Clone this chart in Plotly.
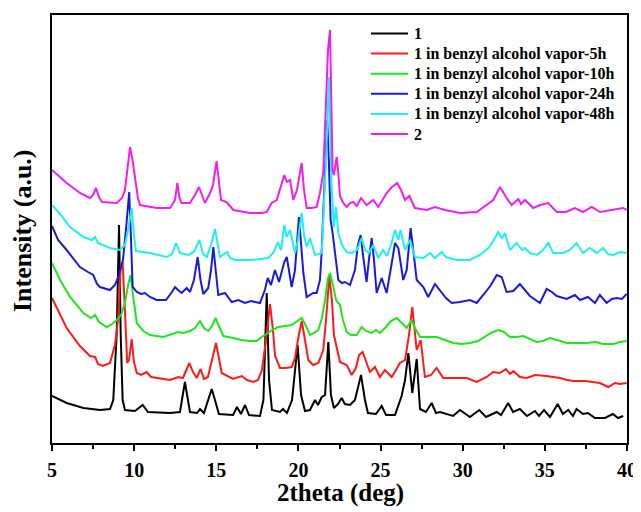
import plotly.graph_objects as go

# ---- data: 2theta (deg) and intensity (a.u., stacked offsets included) ----
s1_x = [5.00, 5.89, 6.91, 7.92, 8.53, 8.73, 8.94, 9.08, 9.18, 9.30, 9.44, 10.05, 10.52, 10.84, 12.18, 12.79, 13.09, 13.40, 13.83, 14.01,
        14.25, 14.49, 14.72, 14.92, 15.16, 16.02, 16.26, 16.50, 16.75, 16.99, 17.66, 17.87, 18.07, 18.21, 18.39, 18.88, 19.06, 19.30, 19.61, 19.95,
        20.16, 20.40, 20.70, 21.01, 21.19, 21.42, 21.62, 21.82, 21.98, 22.16, 22.41, 22.63, 22.83, 23.14, 23.44, 23.81, 24.05, 24.23, 24.72, 25.07,
        25.33, 25.88, 26.28, 26.49, 26.69, 26.93, 27.20, 27.40, 27.76, 28.11, 28.37, 28.62, 29.41, 29.83, 30.44, 31.01, 31.42, 32.07, 32.33, 32.77,
        33.06, 33.48, 33.91, 34.40, 34.64, 34.95, 35.31, 35.78, 36.10, 36.42, 36.71, 36.93, 37.32, 37.62, 38.05, 38.66, 39.14, 39.45, 39.77]
s1_y = [47, 40, 35, 33, 34, 43, 110, 218, 110, 43, 33, 32, 38, 31, 30, 31, 61, 31, 30, 34,
        30, 43, 54, 43, 29, 28, 36, 29, 38, 28, 27, 43, 150, 63, 33, 31, 34, 30, 43, 98,
        48, 32, 33, 43, 38, 46, 48, 101, 48, 35, 39, 45, 39, 38, 43, 68, 43, 30, 29, 37,
        28, 28, 47, 63, 90, 50, 84, 34, 31, 40, 30, 31, 27, 33, 26, 33, 26, 31, 28, 40,
        31, 34, 27, 32, 27, 33, 26, 39, 29, 33, 27, 34, 29, 30, 25, 25, 29, 25, 27]

s2_x = [5.00, 5.89, 6.70, 7.31, 7.62, 7.80, 8.10, 8.53, 8.83, 9.02, 9.17, 9.30, 9.41, 9.58, 9.69, 9.85, 9.99, 10.16, 10.42, 10.76,
        11.03, 11.37, 12.18, 12.69, 12.97, 13.36, 13.58, 13.81, 14.05, 14.25, 14.49, 14.74, 14.98, 15.16, 15.33, 16.02, 16.55, 16.87, 17.25, 17.54,
        17.78, 18.03, 18.27, 18.45, 18.58, 18.88, 19.24, 19.59, 19.79, 19.97, 20.20, 20.40, 20.60, 20.89, 21.21, 21.51, 21.68, 21.88, 22.04, 22.16,
        22.33, 22.53, 22.94, 23.24, 23.50, 23.69, 23.91, 24.11, 24.35, 24.66, 24.96, 25.27, 25.68, 26.18, 26.49, 26.73, 26.93, 27.20, 27.44, 27.70,
        28.07, 28.41, 28.82, 29.53, 30.24, 30.85, 31.46, 31.84, 32.27, 32.63, 32.88, 33.08, 33.48, 33.89, 34.40, 35.11, 35.92, 36.35, 36.73, 37.44,
        38.35, 38.86, 39.27, 39.57, 39.98]
s2_y = [145, 115, 97, 87, 86, 79, 77, 80, 98, 123, 173, 181, 143, 80, 83, 104, 81, 70, 68, 71,
        66, 65, 63, 66, 65, 80, 71, 65, 74, 64, 66, 83, 100, 85, 70, 64, 67, 63, 61, 63,
        73, 103, 139, 113, 87, 75, 75, 76, 85, 103, 122, 103, 83, 78, 80, 93, 123, 167, 143, 108,
        95, 81, 78, 68, 75, 88, 91, 81, 71, 76, 66, 73, 66, 80, 83, 108, 136, 93, 103, 66,
        68, 75, 65, 65, 65, 61, 66, 71, 70, 74, 69, 72, 66, 65, 68, 67, 65, 63, 62, 62,
        60, 56, 60, 59, 60]

s3_x = [5.00, 5.49, 6.10, 6.91, 7.37, 7.62, 7.86, 8.33, 8.65, 8.94, 9.20, 9.44, 9.63, 9.78, 9.93, 10.16, 10.56, 10.96, 11.77, 12.69,
        12.97, 13.40, 13.70, 14.01, 14.25, 14.51, 14.74, 14.95, 15.16, 15.43, 16.02, 16.55, 17.05, 17.46, 17.76, 18.07, 18.39, 18.77, 19.18, 19.59,
        19.85, 20.20, 20.40, 20.70, 20.95, 21.21, 21.43, 21.62, 21.80, 21.92, 22.10, 22.29, 22.53, 22.71, 22.94, 23.20, 23.55, 23.85, 24.11, 24.46,
        24.72, 24.96, 25.33, 25.63, 25.98, 26.24, 26.59, 26.89, 27.09, 27.40, 27.89, 28.41, 28.92, 29.42, 29.95, 30.44, 30.93, 31.25, 31.72, 32.16,
        32.51, 32.88, 33.24, 33.69, 34.09, 34.50, 34.88, 35.31, 35.74, 36.33, 36.83, 37.54, 38.11, 38.54, 39.16, 39.57, 39.98]
s3_y = [180, 163, 146, 130, 125, 128, 121, 116, 119, 123, 128, 140, 158, 168, 148, 120, 112, 108, 106, 111,
        110, 112, 115, 122, 115, 112, 117, 125, 117, 107, 105, 103, 102, 102, 106, 109, 113, 116, 117, 118,
        121, 125, 119, 108, 110, 113, 125, 143, 165, 170, 158, 143, 138, 123, 111, 108, 108, 116, 112, 110,
        113, 110, 116, 122, 125, 121, 115, 123, 115, 106, 106, 106, 103, 100, 99, 100, 102, 105, 110, 113,
        111, 106, 106, 107, 104, 101, 102, 105, 103, 100, 100, 100, 101, 99, 99, 101, 102]

s4_x = [5.00, 5.37, 5.89, 6.70, 7.19, 7.51, 7.74, 7.92, 8.53, 8.83, 9.04, 9.32, 9.50, 9.70, 9.81, 9.91, 10.16, 10.42, 10.66, 10.96,
        11.37, 11.94, 12.30, 12.49, 12.67, 12.89, 13.20, 13.40, 13.64, 13.87, 14.04, 14.21, 14.51, 14.68, 14.82, 14.98, 15.12, 15.53, 15.94, 16.34,
        16.75, 17.11, 17.66, 17.96, 18.13, 18.33, 18.57, 18.82, 19.00, 19.14, 19.29, 19.42, 19.59, 19.79, 20.03, 20.19, 20.30, 20.50, 20.90, 21.11,
        21.31, 21.41, 21.58, 21.75, 21.85, 21.96, 22.08, 22.22, 22.43, 22.65, 22.83, 23.14, 23.44, 23.62, 23.79, 23.93, 24.15, 24.29, 24.46, 24.60,
        24.76, 25.07, 25.37, 25.68, 25.88, 26.08, 26.38, 26.59, 26.83, 26.99, 27.20, 27.60, 27.90, 28.31, 28.72, 28.98, 29.33, 29.83, 30.44, 30.85,
        31.35, 31.72, 32.07, 32.37, 32.67, 33.08, 33.48, 33.79, 34.09, 34.70, 35.11, 35.43, 35.72, 36.33, 36.83, 37.14, 37.62, 38.05, 38.35, 38.76,
        39.08, 39.37, 39.69, 39.98]
s4_y = [217, 203, 193, 176, 171, 168, 159, 156, 153, 158, 166, 183, 213, 251, 203, 156, 151, 149, 150, 146,
        143, 143, 151, 156, 153, 150, 155, 151, 163, 186, 163, 149, 155, 173, 196, 168, 148, 150, 141, 143,
        140, 142, 140, 153, 165, 158, 173, 161, 173, 181, 186, 173, 156, 173, 226, 193, 170, 146, 150, 150,
        163, 190, 253, 323, 283, 223, 210, 190, 163, 160, 161, 158, 173, 198, 208, 188, 161, 183, 205, 183,
        150, 165, 150, 180, 200, 195, 163, 173, 215, 193, 163, 156, 146, 159, 150, 145, 140, 141, 143, 140,
        150, 158, 168, 166, 151, 152, 159, 153, 147, 140, 154, 151, 147, 144, 148, 143, 146, 140, 148, 140,
        144, 145, 144, 149]

s5_x = [5.00, 5.49, 6.10, 6.91, 7.43, 7.62, 7.80, 8.53, 9.14, 9.44, 9.63, 9.85, 9.99, 10.11, 10.96, 11.98, 12.30, 12.55, 12.79, 13.28,
        13.64, 13.97, 14.19, 14.42, 14.68, 14.92, 15.10, 15.22, 15.47, 15.67, 15.83, 16.14, 17.15, 18.17, 18.51, 18.74, 18.94, 19.14, 19.28, 19.49,
        19.79, 19.97, 20.20, 20.34, 20.50, 20.70, 21.01, 21.42, 21.51, 21.68, 21.86, 22.02, 22.16, 22.29, 22.43, 22.65, 22.94, 23.26, 23.56, 23.85,
        24.05, 24.29, 24.56, 24.86, 25.16, 25.39, 25.63, 25.88, 26.08, 26.22, 26.49, 26.79, 27.09, 27.60, 28.01, 28.31, 28.72, 28.98, 29.63, 30.44,
        31.05, 31.56, 31.90, 32.16, 32.39, 32.57, 32.88, 33.28, 33.61, 33.79, 34.09, 34.52, 34.88, 35.21, 35.51, 36.10, 36.53, 36.93, 37.32, 37.74,
        38.15, 38.55, 38.84, 39.16, 39.57, 39.98]
s5_y = [238, 229, 216, 206, 203, 206, 200, 195, 193, 198, 213, 235, 208, 192, 190, 186, 189, 200, 190, 188,
        191, 203, 189, 186, 198, 214, 198, 186, 189, 191, 185, 183, 183, 185, 191, 201, 193, 218, 206, 213,
        190, 203, 230, 208, 196, 205, 188, 190, 223, 283, 366, 256, 216, 236, 210, 198, 191, 190, 193, 205,
        193, 190, 198, 185, 193, 187, 198, 213, 203, 213, 193, 203, 186, 185, 190, 185, 191, 186, 183, 183,
        188, 195, 203, 211, 205, 210, 193, 200, 193, 195, 190, 188, 193, 200, 190, 190, 193, 200, 190, 195,
        190, 195, 189, 188, 191, 190]

s6_x = [5.00, 5.49, 5.89, 6.70, 7.31, 7.50, 7.68, 7.86, 8.04, 8.94, 9.26, 9.44, 9.60, 9.75, 9.90, 10.05, 10.23, 10.36, 11.37, 12.18,
        12.49, 12.63, 12.76, 12.89, 13.40, 13.70, 13.95, 14.13, 14.31, 14.62, 14.80, 15.02, 15.16, 15.29, 15.63, 16.04, 17.05, 17.76, 18.07, 18.37,
        18.68, 18.88, 19.14, 19.30, 19.49, 19.69, 19.91, 20.20, 20.34, 20.50, 20.82, 21.11, 21.31, 21.51, 21.68, 21.80, 21.92, 22.01, 22.08, 22.16,
        22.33, 22.44, 22.53, 22.73, 22.94, 23.14, 23.34, 23.55, 23.81, 24.15, 24.56, 24.86, 25.16, 25.37, 25.69, 26.02, 26.24, 26.49, 26.75, 27.09,
        27.81, 28.31, 28.92, 29.83, 30.85, 31.46, 31.86, 32.27, 32.45, 32.67, 32.98, 33.38, 33.55, 33.79, 34.29, 34.70, 35.21, 35.72, 36.28, 36.83,
        37.32, 37.85, 38.35, 39.14, 39.77, 39.98]
s6_y = [273, 266, 260, 250, 245, 248, 255, 246, 241, 240, 245, 253, 278, 296, 283, 263, 245, 238, 235, 235,
        243, 260, 245, 240, 240, 248, 256, 248, 240, 250, 258, 282, 258, 243, 241, 233, 230, 230, 231, 240,
        243, 255, 268, 261, 263, 243, 253, 280, 253, 235, 235, 236, 250, 270, 333, 393, 413, 343, 273, 268,
        286, 268, 247, 240, 236, 240, 241, 237, 245, 238, 243, 236, 245, 250, 256, 260, 253, 243, 247, 235,
        233, 236, 233, 230, 231, 238, 243, 256, 251, 245, 238, 244, 239, 243, 235, 238, 240, 231, 231, 235,
        231, 236, 231, 233, 235, 233]

series_names = ["1", "1 in benzyl alcohol vapor-5h", "1 in benzyl alcohol vapor-10h",
                "1 in benzyl alcohol vapor-24h", "1 in benzyl alcohol vapor-48h", "2"]
series_x = [s1_x, s2_x, s3_x, s4_x, s5_x, s6_x]
series_y = [s1_y, s2_y, s3_y, s4_y, s5_y, s6_y]
colors = ["#000000", "#FF1A1A", "#1EE61E", "#1A1ADC", "#1EF0F0", "#F01EF0"]

x_ticks = [5, 10, 15, 20, 25, 30, 35, 40]

FONT = "Liberation Serif"

# The page places the figure 8 px in from the top-left corner (default body margin),
# so the figure is sized to end exactly at the window edge.
OFF = 8
W, H = 641 - OFF, 512 - OFF
ML, MR, MT, MB = 52 - OFF, 14, 15 - OFF, 69
PW, PH = W - ML - MR, H - MT - MB


def px2paper(px, py):
    """screen pixel -> paper coordinates (layout positions only)"""
    return (px - OFF - ML) / PW, (H - MB - (py - OFF)) / PH


fig = go.Figure()
for name, xs, ys, c in zip(series_names, series_x, series_y, colors):
    fig.add_trace(go.Scatter(x=xs, y=ys, mode="lines", name=name,
                             line=dict(color=c, width=2), showlegend=False))

# legend drawn as line samples + real text labels (tight row spacing like reference)
shapes, annots = [], []
for i, (name, c) in enumerate(zip(series_names, colors)):
    row_y = 33.5 + i * 20.1
    x0, y0 = px2paper(371, row_y)
    x1, _ = px2paper(408, row_y)
    shapes.append(dict(type="line", xref="paper", yref="paper", x0=x0, x1=x1, y0=y0, y1=y0,
                       line=dict(color=c, width=2)))
    tx, ty = px2paper(412, row_y)
    annots.append(dict(xref="paper", yref="paper", x=tx, y=ty, xanchor="left", yanchor="middle",
                       text=name, showarrow=False,
                       font=dict(family=FONT, size=16, color="black", weight="bold")))

# axis titles
tx, ty = px2paper(340, 493)
annots.append(dict(xref="paper", yref="paper", x=tx, y=ty, xanchor="center", yanchor="middle",
                   text="2theta (deg)", showarrow=False,
                   font=dict(family=FONT, size=25, color="black", weight="bold")))
tx, ty = px2paper(22, 231)
annots.append(dict(xref="paper", yref="paper", x=tx, y=ty, xanchor="center", yanchor="middle",
                   text="Intensity (a.u.)", showarrow=False, textangle=-90,
                   font=dict(family=FONT, size=26, color="black", weight="bold")))

fig.update_layout(
    width=W, height=H,
    margin=dict(l=ML, r=MR, t=MT, b=MB),
    paper_bgcolor="white", plot_bgcolor="white",
    font=dict(family=FONT, color="black"),
    showlegend=False,
    shapes=shapes, annotations=annots,
)
fig.update_xaxes(
    range=[5, 40], tickvals=x_ticks, ticktext=[str(v) for v in x_ticks],
    ticks="outside", ticklen=6, tickwidth=1.5, tickcolor="black",
    minor=dict(dtick=2.5, ticks="outside", ticklen=4, tickwidth=1.5, tickcolor="black"),
    showline=True, linecolor="black", linewidth=2, mirror=True,
    showgrid=False, zeroline=False, automargin=False,
    ticklabelstandoff=2,
    tickfont=dict(family=FONT, size=20, color="black", weight="bold"),
)
fig.update_yaxes(
    range=[0, 428], showticklabels=False, ticks="",
    showline=True, linecolor="black", linewidth=2, mirror=True,
    showgrid=False, zeroline=False, automargin=False,
)

fig.write_html("out.html")
